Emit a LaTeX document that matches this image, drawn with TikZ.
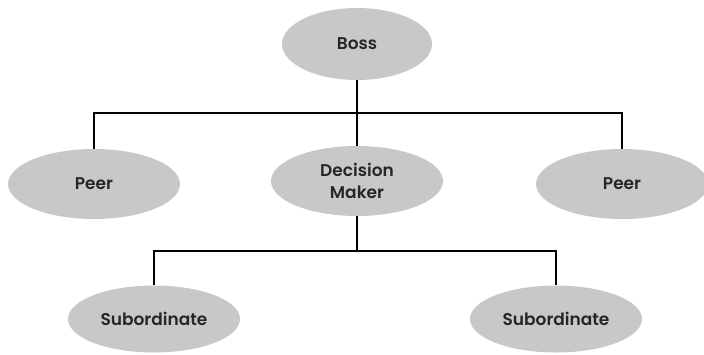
\documentclass[tikz,border=0pt]{standalone}
\usepackage{fontspec}
\setmainfont{Poppins}[BoldFont={Poppins SemiBold}]
\usepackage{tikz}
\usetikzlibrary{shapes.geometric}

\definecolor{bubble}{RGB}{200,200,200}
\definecolor{ink}{RGB}{38,38,38}

\begin{document}
\begin{tikzpicture}[
                    node distance=137pt,
                    every node/.style={
                        ellipse,
                        fill=bubble,
                        minimum width=172pt,
                        minimum height=70pt,
                        inner sep=0pt,
                        align=center,
                        text=ink,
                        font=\fontsize{17}{22}\selectfont\bfseries
                    }
                ]
                    \useasboundingbox (0,0) rectangle (704pt,-354pt);

                    \node[minimum width=150pt, minimum height=72pt] (boss) at (357pt,-44pt) {Boss};
                    \node (dm) [below of=boss] {Decision\\Maker};
                    \node (peerl) [left of=dm, node distance=263pt, yshift=-3pt] {Peer};
                    \node (peerr) [right of=dm, node distance=265pt, yshift=-3pt] {Peer};
                    \node[minimum height=67pt] (subl) [below of=dm, xshift=-203pt, yshift=-1pt] {Subordinate};
                    \node[minimum height=67pt] (subr) [below of=dm, xshift=199pt, yshift=-1pt] {Subordinate};

                    % Junctions
                    \coordinate (bar1) at ([yshift=-33pt]boss.south);
                    \coordinate (bar2) at ([yshift=-35pt]dm.south);

                    % Edges
                    \draw[line width=2pt] (boss) -- (bar1);
                    \draw[line width=2pt] (bar1) -- (dm);
                    \draw[line width=2pt] (peerl.north) |- (bar1);
                    \draw[line width=2pt] (peerr.north) |- (bar1);
                    \draw[line width=2pt] (dm) -- (bar2);
                    \draw[line width=2pt] (subl.north) |- (bar2);
                    \draw[line width=2pt] (subr.north) |- (bar2);
                \end{tikzpicture}
\end{document}
